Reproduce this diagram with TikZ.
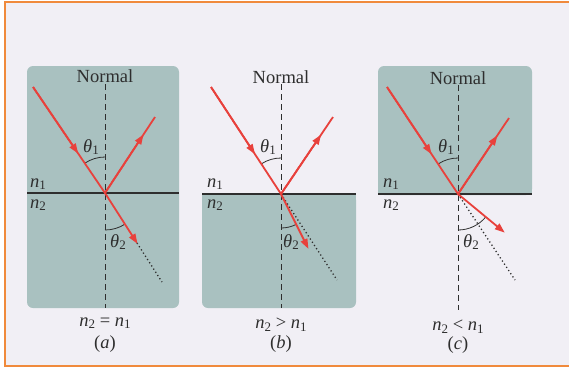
\documentclass[tikz,border=0pt]{standalone}
\usepackage{fontspec}
\setmainfont{Liberation Serif}
\usetikzlibrary{arrows.meta,calc}
\definecolor{bgc}{HTML}{F1EFF5}
\definecolor{framec}{HTML}{F08A3C}
\definecolor{medium}{HTML}{A9C1C0}
\definecolor{ray}{HTML}{E8413C}
\definecolor{ink}{HTML}{2E2E2E}
\newcommand\symb[2]{\textit{#1}\raisebox{-0.32ex}{\fontsize{13}{13}\selectfont #2}}
\tikzset{
  lbl/.style={font=\fontsize{18.5}{21}\selectfont, text=ink, inner sep=0pt},
  rayline/.style={draw=ray, line width=1.8pt},
  rayarrow/.style={draw=ray, line width=1.8pt, -{Triangle[length=10pt,width=7pt]}, shorten >=-1pt},
  normalline/.style={draw=ink, line width=0.9pt, dash pattern=on 6pt off 4pt},
  surface/.style={draw=ink, line width=1.8pt},
  extension/.style={draw=ink, line width=1.3pt, dash pattern=on 1.2pt off 2.6pt},
  anglearc/.style={draw=ink, line width=0.8pt},
  mediumbox/.style={fill=medium}
}
\begin{document}
\begin{tikzpicture}[x=1pt,y=-1pt]
\useasboundingbox (0,0) rectangle (569,368);
\fill[white] (0,0) rectangle (569,368);
\fill[bgc] (5,1.5) rectangle (569,366);
\draw[framec, line width=2pt] (569,1.5) -- (5,1.5) -- (5,366) -- (569,366);

% ---------- (a) ----------
\fill[mediumbox, rounded corners=6pt] (27,66) rectangle (179,308);
\coordinate (Oa) at (105,193);
\coordinate (Sa) at (33,87);
\coordinate (Ra) at (155,117);
\coordinate (Ta) at (137,243);
\coordinate (Da) at (162,282);
\coordinate (NaT) at (105,84);
\coordinate (NaB) at (105,308);
\coordinate (LaL) at (27,193);
\coordinate (LaR) at (179,193);
\draw[normalline] (NaT) -- (NaB);
\draw[surface] (LaL) -- (LaR);
\draw[extension] (Ta) -- (Da);
\draw[anglearc] (Oa) ++(-90:36) arc[start angle=-90, end angle=-124, radius=36];
\draw[anglearc] (Oa) ++(90:37) arc[start angle=90, end angle=57, radius=37];
\draw[rayline] (Sa) -- (Oa) -- (Ra);
\draw[rayarrow] (Sa) -- ($(Sa)!0.62!(Oa)$);
\draw[rayarrow] (Oa) -- ($(Oa)!0.76!(Ra)$);
\draw[rayarrow] (Oa) -- (Ta);
\node[lbl] (na) at (105,76) {Normal};
\node[lbl] (ta1) at (91,147) {\symb{θ}{1}};
\node[lbl] (ta2) at (118,242) {\symb{θ}{2}};
\node[lbl] (na1) at (38,184) {\symb{n}{1}};
\node[lbl] (na2) at (38,205) {\symb{n}{2}};
\node[lbl] (ca) at (105,323) {\symb{n}{2} = \symb{n}{1}};
\node[lbl] (pa) at (105,344) {(\textit{a})};

% ---------- (b) ----------
\fill[mediumbox, rounded corners=6pt] (202,194) -- (202,308) -- (356,308) -- (356,194) -- cycle;
\fill[mediumbox] (202,194) rectangle (356,200);
\coordinate (Ob) at (281,194);
\coordinate (Sb) at (211,87);
\coordinate (Rb) at (333,117);
\coordinate (Tb) at (308,248);
\coordinate (Db) at (337,280);
\coordinate (NbT) at (281,84);
\coordinate (NbB) at (281,308);
\coordinate (LbL) at (202,194);
\coordinate (LbR) at (356,194);
\draw[normalline] (NbT) -- (NbB);
\draw[surface] (LbL) -- (LbR);
\draw[extension] (Ob) -- (Db);
\draw[anglearc] (Ob) ++(-90:36) arc[start angle=-90, end angle=-123, radius=36];
\draw[anglearc] (Ob) ++(90:34) arc[start angle=90, end angle=63, radius=34];
\draw[rayline] (Sb) -- (Ob) -- (Rb);
\draw[rayarrow] (Sb) -- ($(Sb)!0.62!(Ob)$);
\draw[rayarrow] (Ob) -- ($(Ob)!0.76!(Rb)$);
\draw[rayarrow] (Ob) -- (Tb);
\node[lbl] (nb) at (281,77) {Normal};
\node[lbl] (tb1) at (268,147) {\symb{θ}{1}};
\node[lbl] (tb2) at (291,242) {\symb{θ}{2}};
\node[lbl] (nb1) at (215,184) {\symb{n}{1}};
\node[lbl] (nb2) at (215,205) {\symb{n}{2}};
\node[lbl] (cb) at (281,325) {\symb{n}{2} > \symb{n}{1}};
\node[lbl] (pb) at (281,344) {(\textit{b})};

% ---------- (c) ----------
\fill[mediumbox, rounded corners=6pt] (378,195) -- (378,66) -- (532,66) -- (532,195) -- cycle;
\fill[mediumbox] (378,188) rectangle (532,195);
\coordinate (Oc) at (458,194);
\coordinate (Sc) at (387,87);
\coordinate (Rc) at (509,118);
\coordinate (Tc) at (504,232);
\coordinate (Dc) at (515,280);
\coordinate (NcT) at (458,85);
\coordinate (NcB) at (458,310);
\coordinate (LcL) at (378,194);
\coordinate (LcR) at (532,194);
\draw[normalline] (NcT) -- (NcB);
\draw[surface] (LcL) -- (LcR);
\draw[extension] (Oc) -- (Dc);
\draw[anglearc] (Oc) ++(-90:36) arc[start angle=-90, end angle=-123, radius=36];
\draw[anglearc] (Oc) ++(90:36) arc[start angle=90, end angle=40, radius=36];
\draw[rayline] (Sc) -- (Oc) -- (Rc);
\draw[rayarrow] (Sc) -- ($(Sc)!0.62!(Oc)$);
\draw[rayarrow] (Oc) -- ($(Oc)!0.76!(Rc)$);
\draw[rayarrow] (Oc) -- (Tc);
\node[lbl] (nc) at (458,78) {Normal};
\node[lbl] (tc1) at (446,147) {\symb{θ}{1}};
\node[lbl] (tc2) at (471,242) {\symb{θ}{2}};
\node[lbl] (nc1) at (391,184) {\symb{n}{1}};
\node[lbl] (nc2) at (391,205) {\symb{n}{2}};
\node[lbl] (cc) at (458,327) {\symb{n}{2} < \symb{n}{1}};
\node[lbl] (pc) at (458,345) {(\textit{c})};
\end{tikzpicture}
\end{document}
